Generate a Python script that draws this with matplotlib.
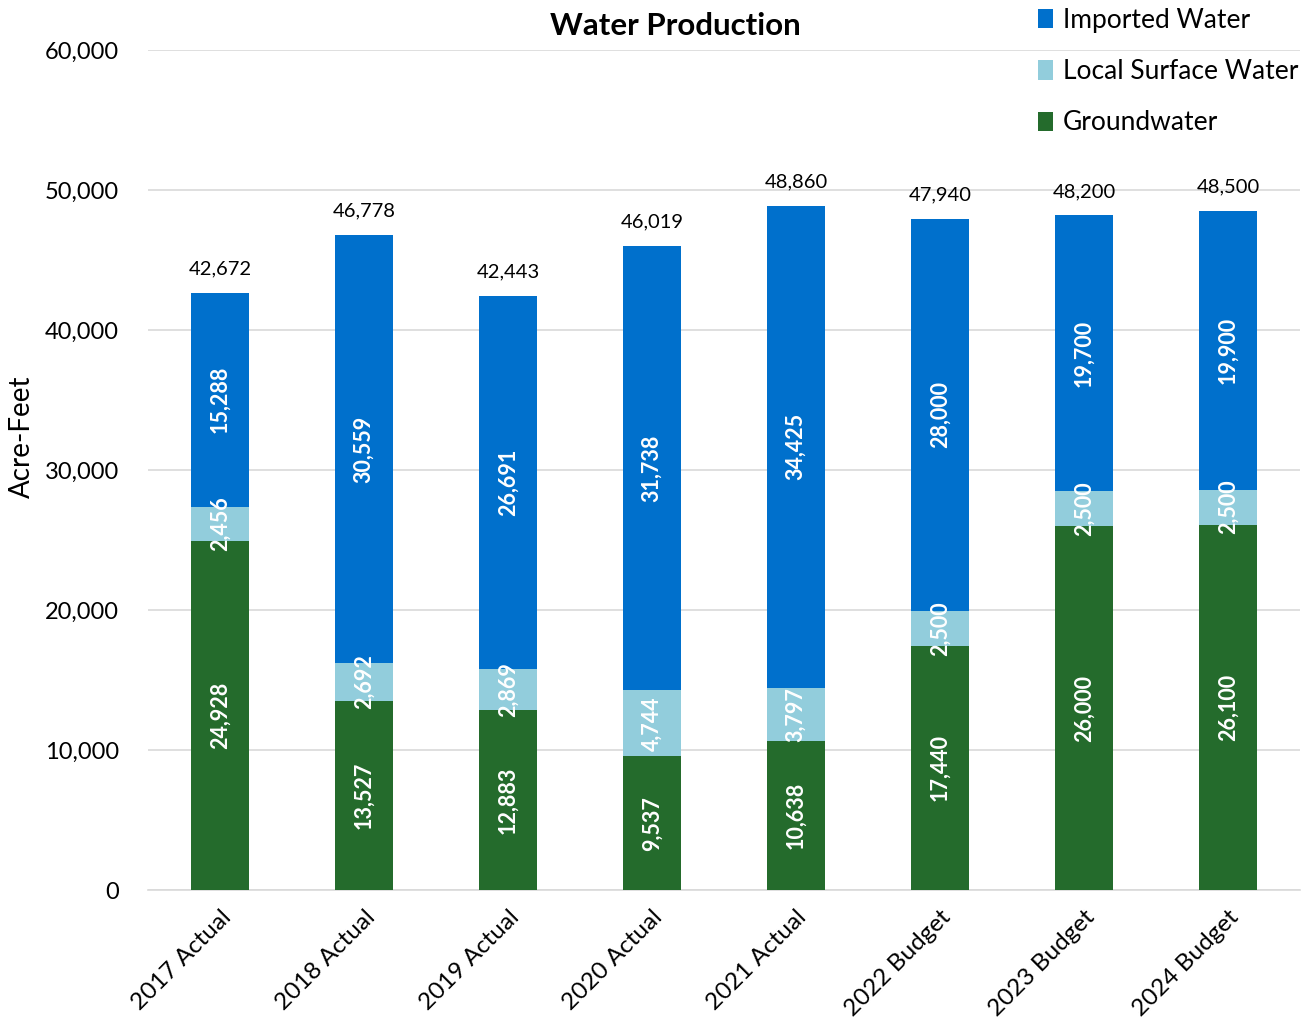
import matplotlib
matplotlib.use("Agg")
import matplotlib.pyplot as plt
import matplotlib.transforms as mtransforms
import numpy as np

plt.rcParams['font.family'] = ['Lato', 'DejaVu Sans']

categories = ["2017 Actual", "2018 Actual", "2019 Actual", "2020 Actual",
              "2021 Actual", "2022 Budget", "2023 Budget", "2024 Budget"]
groundwater = [24928, 13527, 12883, 9537, 10638, 17440, 26000, 26100]
local_surface = [2456, 2692, 2869, 4744, 3797, 2500, 2500, 2500]
imported = [15288, 30559, 26691, 31738, 34425, 28000, 19700, 19900]
yticks = [0, 10000, 20000, 30000, 40000, 50000, 60000]

c_gw = "#246B2C"
c_ls = "#92CDDC"
c_iw = "#0070CC"

fig = plt.figure(figsize=(13.1, 10.22), dpi=100)
ax = fig.add_axes([148/1310, 1 - 890/1022, 1152/1310, 840/1022])

x = np.arange(len(categories))
w = 0.4
gw = np.array(groundwater)
ls = np.array(local_surface)
iw = np.array(imported)

b1 = ax.bar(x, gw, w, color=c_gw, label="Groundwater", zorder=3)
b2 = ax.bar(x, ls, w, bottom=gw, color=c_ls, label="Local Surface Water", zorder=3)
b3 = ax.bar(x, iw, w, bottom=gw + ls, color=c_iw, label="Imported Water", zorder=3)

# segment labels, white and rotated inside each segment
for bottoms, vals in ((np.zeros_like(gw), gw), (gw, ls), (gw + ls, iw)):
    for xi, b, v in zip(x, bottoms, vals):
        ax.text(xi, b + v / 2, f"{v:,}", rotation=90, ha="center", va="center",
                color="white", fontsize=15.5, fontweight="bold", zorder=4)

# totals above each stack
totals = gw + ls + iw
for xi, t in zip(x, totals):
    ax.annotate(f"{t:,}", (xi, t), xytext=(0, 11), textcoords="offset points",
                ha="center", va="bottom", fontsize=14.5, color="black")

ax.set_xlim(-0.5, len(categories) - 0.5)
ax.set_ylim(0, 60000)
ax.set_yticks(yticks)
ax.set_yticklabels([f"{v:,}" for v in yticks], fontsize=17)
ax.set_xticks(x)
ax.set_xticklabels(categories, rotation=45, ha="right", rotation_mode="anchor",
                   fontsize=17.5)
shift = mtransforms.ScaledTranslation(-11/100, -6/100, fig.dpi_scale_trans)
for lbl in ax.get_xticklabels():
    lbl.set_transform(lbl.get_transform() + shift)
ax.tick_params(axis="both", length=0)
ax.tick_params(axis="y", pad=21)
ax.tick_params(axis="x", pad=12)
ax.grid(axis="y", color="#D9D9D9", linewidth=1.2, zorder=0)
for s in ("top", "right", "left"):
    ax.spines[s].set_visible(False)
ax.spines["bottom"].set_color("#D9D9D9")
ax.spines["bottom"].set_linewidth(1.2)

ax.set_ylabel("Acre-Feet", fontsize=20)
ax.yaxis.set_label_coords(-0.098, 0.54)

fig.text(675/1310, 1 - 26/1022, "Water Production", ha="center", va="center",
         fontsize=22.5, fontweight="bold")

handles = [b3, b2, b1]
leg = fig.legend(handles, [h.get_label() for h in handles],
                 loc="upper right", bbox_to_anchor=(1.003, 1.008), frameon=False,
                 fontsize=19, handlelength=0.6, handleheight=0.75,
                 handletextpad=0.35, labelspacing=1.0, borderaxespad=0.2)

fig.savefig("out.png", dpi=100)
